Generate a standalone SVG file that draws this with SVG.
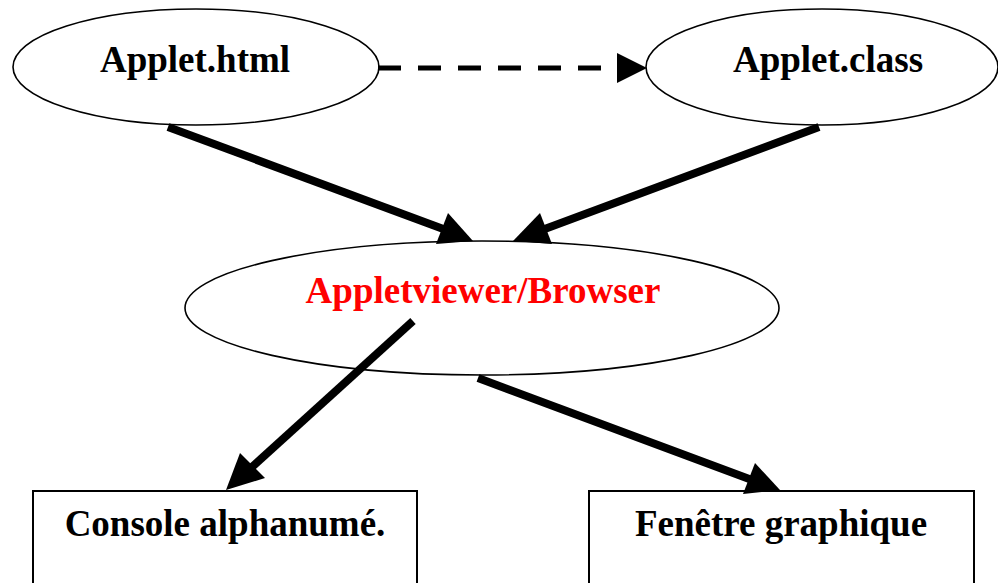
<svg xmlns="http://www.w3.org/2000/svg" width="998" height="583" viewBox="0 0 998 583">
<style>
.node{fill:#fff;stroke:#000;stroke-width:1.6}
.box{fill:#fff;stroke:#000;stroke-width:2}
.lbl{font-family:"Liberation Serif","Times New Roman",serif;font-weight:bold;font-size:37px;text-anchor:middle;fill:#000}
.red{fill:#ff0000}
.edge{stroke:#000;stroke-width:8;fill:none}
.dash{stroke:#000;stroke-width:5;stroke-dasharray:23 17;fill:none}
.head{fill:#000;stroke:none}
</style>
<rect width="998" height="583" fill="#fff"/>
<g id="applet-html">
<ellipse class="node" cx="196" cy="67" rx="183" ry="58"/>
<text class="lbl" x="195" y="72">Applet.html</text>
</g>
<g id="applet-class">
<ellipse class="node" cx="822" cy="67" rx="176" ry="58"/>
<text class="lbl" x="828" y="72">Applet.class</text>
</g>
<g id="appletviewer">
<ellipse class="node" cx="482" cy="308" rx="297" ry="67"/>
<text class="lbl red" x="483" y="303">Appletviewer/Browser</text>
</g>
<g id="console">
<rect class="box" x="33" y="491" width="384" height="100"/>
<text class="lbl" x="225" y="536">Console alphanumé.</text>
</g>
<g id="fenetre">
<rect class="box" x="589" y="491" width="385" height="100"/>
<text class="lbl" x="781" y="536">Fenêtre graphique</text>
</g>
<g id="connectors">
<line class="dash" x1="378" y1="68" x2="617" y2="68"/>
<polygon class="head" points="617,53 647,68 617,83"/>
<line class="edge" x1="168" y1="127" x2="446" y2="230"/>
<polygon class="head" points="448,213 473,241 436,244"/>
<line class="edge" x1="819" y1="127" x2="542" y2="230"/>
<polygon class="head" points="540,213 513,241 552,244"/>
<line class="edge" x1="413" y1="321" x2="252" y2="467"/>
<polygon class="head" points="240,453 226,490 265,478"/>
<line class="edge" x1="478" y1="378" x2="752" y2="480"/>
<polygon class="head" points="755,463 780,490 743,494"/>
</g>
</svg>
